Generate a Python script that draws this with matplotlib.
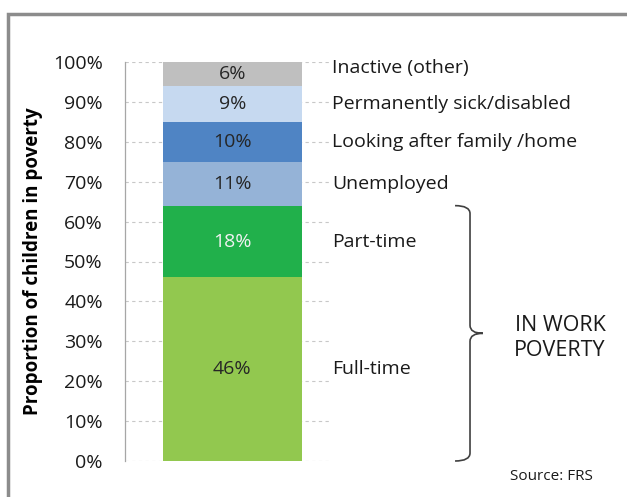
import matplotlib
matplotlib.use("Agg")
import matplotlib.pyplot as plt
from matplotlib.path import Path
from matplotlib.patches import PathPatch, Rectangle

# ── Data ─────────────────────────────────────────────────────────────────────
categories = ["Full-time", "Part-time", "Unemployed",
              "Looking after family /home", "Permanently sick/disabled",
              "Inactive (other)"]
values = [46, 18, 11, 10, 9, 6]
colors = ["#92C84F", "#21B04B", "#95B3D7", "#4F84C4", "#C6D9F0", "#BFBFBF"]
value_colors = ["#262626", "#F2F2F2", "#262626", "#262626", "#262626", "#262626"]
yticks = [0, 10, 20, 30, 40, 50, 60, 70, 80, 90, 100]

plt.rcParams["font.family"] = ["Open Sans", "DejaVu Sans"]
FS = 14

fig = plt.figure(figsize=(6.27, 4.97), dpi=100)
ax = fig.add_axes([125 / 627, 1 - 461 / 497, 205 / 627, 399 / 497])

# outer grey frame
fig.patches.append(Rectangle((8 / 627, -0.1), 1.2, 1 - 14 / 497 + 0.1,
                             transform=fig.transFigure, fill=False,
                             edgecolor="#8C8C8C", linewidth=2.5))

bottom = 0
for cat, v, c, tc in zip(categories, values, colors, value_colors):
    ax.bar(0.524, v, width=0.678, bottom=bottom, color=c, zorder=2)
    mid = bottom + v / 2
    ax.text(0.524, mid, f"{v}%", ha="center", va="center",
            fontsize=FS, color=tc, zorder=3)
    ax.text(1.01, mid + (1.5 if cat == "Inactive (other)" else 0), cat,
            ha="left", va="center", fontsize=FS, color="#1A1A1A",
            clip_on=False)
    bottom += v

ax.set_xlim(0, 1)
ax.set_ylim(0, 100)
ax.set_yticks(yticks)
ax.set_yticklabels([f"{t}%" for t in yticks], fontsize=FS, color="#1A1A1A")
ax.tick_params(axis="y", length=0, pad=16)
ax.set_xticks([])
ax.yaxis.grid(True, linestyle=(0, (3, 3)), color="#C8C8C8", linewidth=0.8)
ax.set_axisbelow(True)
for s in ["top", "right", "bottom"]:
    ax.spines[s].set_visible(False)
ax.spines["left"].set_color("#A6A6A6")
ax.spines["left"].set_linewidth(0.9)
ax.set_ylabel("Proportion of children in poverty", fontsize=13.5,
              fontweight="bold")
ax.yaxis.set_label_coords(-(125 - 43) / 205, 0.5)

# curly bracket around in-work poverty segments
top = values[0] + values[1]
midb = top / 2
x0, x1, x2 = 1.61, 1.683, 1.746
r = 2.0
verts = [(x0, top), (x1, top), (x1, top - r),
         (x1, midb + r), (x1, midb), (x2, midb),
         (x2, midb), (x1, midb), (x1, midb - r),
         (x1, r), (x1, 0), (x0, 0)]
codes = [Path.MOVETO, Path.CURVE3, Path.CURVE3,
         Path.LINETO, Path.CURVE3, Path.CURVE3,
         Path.MOVETO, Path.CURVE3, Path.CURVE3,
         Path.LINETO, Path.CURVE3, Path.CURVE3]
ax.add_patch(PathPatch(Path(verts, codes), fill=False, edgecolor="#404040",
                       linewidth=1.2, clip_on=False))

fig.text(560 / 627, 1 - 338 / 497, "IN WORK\nPOVERTY", ha="center",
         va="center", fontsize=15.5, color="#1A1A1A", linespacing=1.25)
fig.text(551 / 627, 1 - 476 / 497, "Source: FRS", ha="center", va="center",
         fontsize=11, color="#1A1A1A")

fig.savefig("out.png", dpi=100)
